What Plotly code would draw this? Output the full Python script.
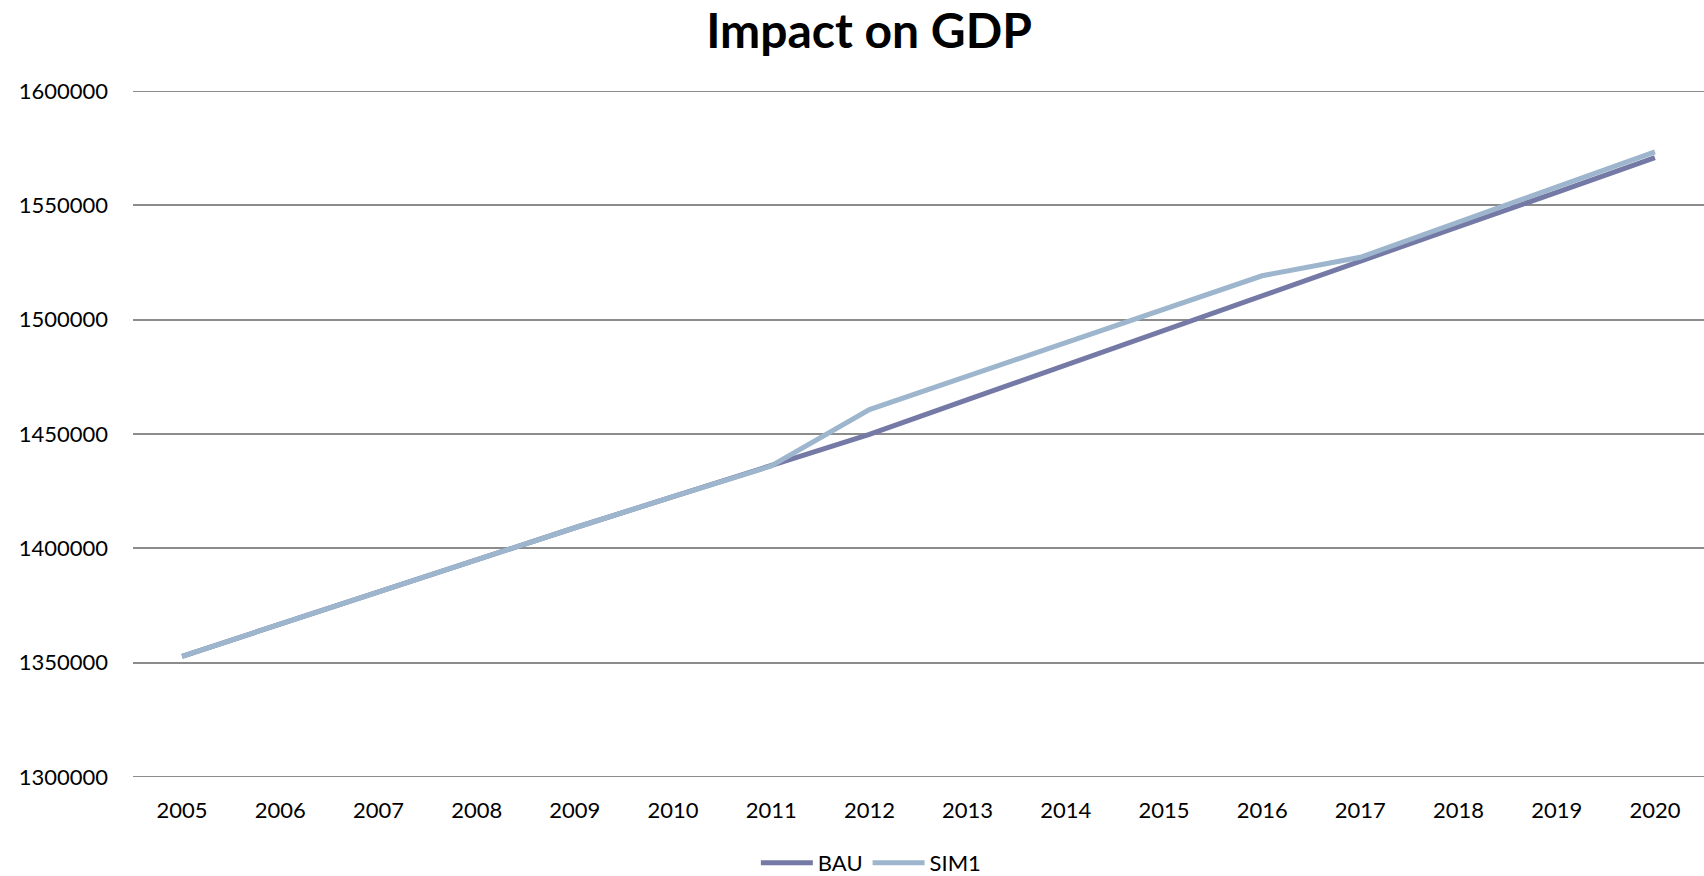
import plotly.graph_objects as go

years = [str(y) for y in range(2005, 2021)]
bau = [1352800, 1366900, 1381000, 1395100, 1409000, 1422600, 1436000, 1449800,
       1465000, 1480200, 1495300, 1510800, 1525900, 1540700, 1555700, 1570900]
sim1 = [1352800, 1366900, 1381000, 1395100, 1409000, 1422600, 1436000, 1460700,
        1475200, 1489800, 1504500, 1519200, 1527300, 1542600, 1558100, 1573400]
y_ticks = [1300000, 1350000, 1400000, 1450000, 1500000, 1550000, 1600000]

FONT = "Lato, 'Open Sans', sans-serif"
GRID = "#8c8c8c"

fig = go.Figure()
fig.add_trace(go.Scatter(x=years, y=bau, mode="lines", name="BAU",
                         line=dict(color="#7479a6", width=5)))
fig.add_trace(go.Scatter(x=years, y=sim1, mode="lines", name="SIM1",
                         line=dict(color="#9db6cd", width=5)))

fig.update_layout(
    width=1704, height=876,
    paper_bgcolor="white", plot_bgcolor="white",
    margin=dict(l=133, r=0, t=91, b=99, autoexpand=False),
    font=dict(family=FONT, color="black", size=22),
    title=dict(text="<b>Impact on GDP</b>", x=0.51, xanchor="center", xref="container",
               y=1 - 31 / 876, yanchor="middle", yref="container",
               font=dict(size=48, family=FONT, color="black")),
    showlegend=True,
    legend=dict(orientation="h", x=0.47, xanchor="center", xref="paper",
                y=13 / 876, yanchor="middle", yref="container",
                font=dict(size=22, family=FONT), itemwidth=52, tracegroupgap=0,
                bgcolor="rgba(0,0,0,0)"),
    xaxis=dict(type="category", range=[-0.5, 15.5], showgrid=False, zeroline=False,
               showline=False, ticks="", ticklabelstandoff=18,
               tickfont=dict(size=22, family=FONT)),
    yaxis=dict(range=[1300000, 1600000], tickvals=y_ticks,
               ticktext=[str(v) for v in y_ticks],
               showgrid=True, gridcolor=GRID, gridwidth=1.5, zeroline=False,
               showline=False, ticks="", ticklabelstandoff=24,
               tickfont=dict(size=22, family=FONT)),
)
for edge in (y_ticks[0], y_ticks[-1]):
    fig.add_shape(type="line", xref="paper", yref="y", x0=0, x1=1, y0=edge, y1=edge,
                  line=dict(color=GRID, width=2), layer="below")

fig.write_html("out.html")
